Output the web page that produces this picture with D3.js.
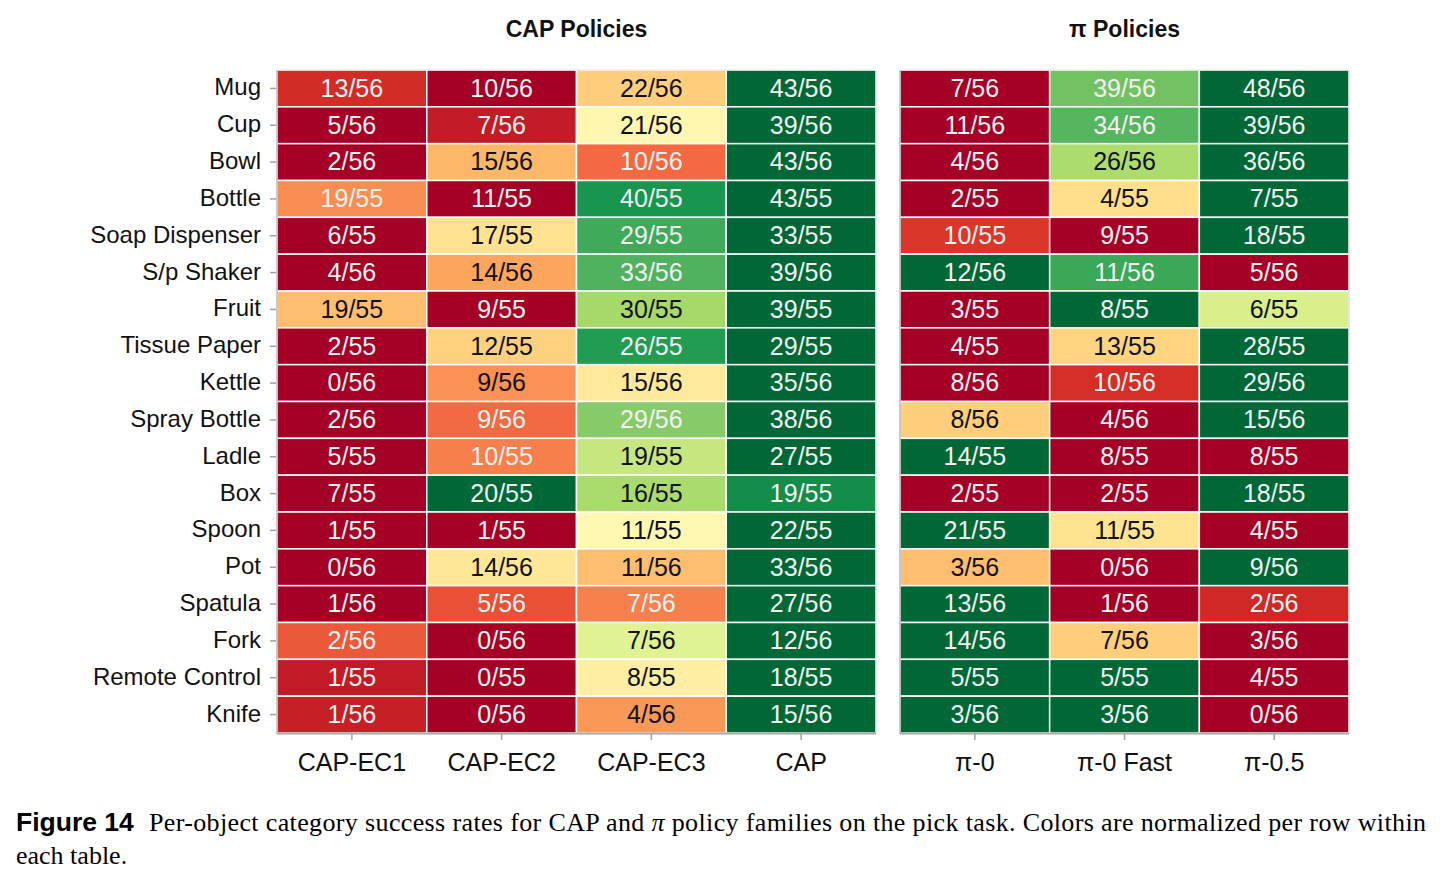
<!DOCTYPE html>
<html>
<head>
<meta charset="utf-8">
<script src="https://cdn.jsdelivr.net/npm/d3@7"></script>
<style>
  html, body { margin: 0; padding: 0; background: #ffffff; }
  svg { display: block; }
</style>
</head>
<body>
<svg id="chart" width="1442" height="886"></svg>
<script>
// ---------------- DATA ----------------
const objects = ["Mug", "Cup", "Bowl", "Bottle", "Soap Dispenser", "S/p Shaker", "Fruit",
  "Tissue Paper", "Kettle", "Spray Bottle", "Ladle", "Box", "Spoon", "Pot", "Spatula",
  "Fork", "Remote Control", "Knife"];
const trials = [56, 56, 56, 55, 55, 56, 55, 55, 56, 56, 55, 55, 55, 56, 56, 56, 55, 56];

const capPolicies = ["CAP-EC1", "CAP-EC2", "CAP-EC3", "CAP"];
const capEC1 = [13, 5, 2, 19, 6, 4, 19, 2, 0, 2, 5, 7, 1, 0, 1, 2, 1, 1];
const capEC2 = [10, 7, 15, 11, 17, 14, 9, 12, 9, 9, 10, 20, 1, 14, 5, 0, 0, 0];
const capEC3 = [22, 21, 10, 40, 29, 33, 30, 26, 15, 29, 19, 16, 11, 11, 7, 7, 8, 4];
const capFull = [43, 39, 43, 43, 33, 39, 39, 29, 35, 38, 27, 19, 22, 33, 27, 12, 18, 15];

const piPolicies = ["π-0", "π-0 Fast", "π-0.5"];
const pi0 = [7, 11, 4, 2, 10, 12, 3, 4, 8, 8, 14, 2, 21, 3, 13, 14, 5, 3];
const pi0Fast = [39, 34, 26, 4, 9, 11, 8, 13, 10, 4, 8, 2, 11, 0, 1, 7, 5, 3];
const pi05 = [48, 39, 36, 7, 18, 5, 6, 28, 29, 15, 8, 18, 4, 9, 2, 3, 4, 0];

const titles = ["CAP Policies", "π Policies"];
const captionLabel = "Figure 14";
const captionLine1 = ["Per-object category success rates for CAP and ", "π", " policy families on the pick task. Colors are normalized per row within"];
const captionLine2 = "each table.";

// matplotlib RdYlGn anchors
const rdylgn = ["#a50026", "#d73027", "#f46d43", "#fdae61", "#fee08b", "#ffffbf",
  "#d9ef8b", "#a6d96a", "#66bd63", "#1a9850", "#006837"];

// ---------------- CHART ----------------
const svg = d3.select("#chart");
const color = d3.scaleLinear()
  .domain(d3.range(11).map(i => i / 10))
  .range(rdylgn)
  .interpolate(d3.interpolateRgb)
  .clamp(true);

const y = d3.scaleBand().domain(objects).range([70, 733]);

const tables = [
  { title: titles[0], policies: capPolicies, series: [capEC1, capEC2, capEC3, capFull], range: [277, 876], yAxis: true },
  { title: titles[1], policies: piPolicies, series: [pi0, pi0Fast, pi05], range: [900, 1349], yAxis: false }
];

const sans = "'Liberation Sans', Arial, Helvetica, sans-serif";

tables.forEach(tb => {
  const x = d3.scaleBand().domain(tb.policies).range(tb.range);
  const cells = [];
  objects.forEach((obj, r) => {
    const vals = tb.series.map(s => s[r]);
    const lo = d3.min(vals), hi = d3.max(vals);
    tb.policies.forEach((p, c) => {
      const v = vals[c];
      const norm = hi > lo ? (v - lo) / (hi - lo) : 0.5;
      cells.push({ obj, p, v, n: trials[r], norm });
    });
  });

  const g = svg.append("g");

  g.selectAll("rect.cell").data(cells).join("rect")
    .attr("class", "cell")
    .attr("x", d => x(d.p))
    .attr("y", d => y(d.obj))
    .attr("width", x.bandwidth())
    .attr("height", y.bandwidth())
    .attr("fill", d => color(d.norm))
    .attr("stroke", "#ffffff")
    .attr("stroke-width", 1.5);

  g.selectAll("text.val").data(cells).join("text")
    .attr("class", "val")
    .attr("x", d => x(d.p) + x.bandwidth() / 2)
    .attr("y", d => y(d.obj) + y.bandwidth() / 2)
    .attr("dy", "0.33em")
    .attr("text-anchor", "middle")
    .attr("font-family", sans)
    .attr("font-size", 25)
    .attr("fill", d => (d.norm <= 0.2501 || d.norm >= 0.7499) ? "#f2f2f2" : "#111111")
    .text(d => `${d.v}/${d.n}`);

  // frame (spines)
  const [x0, x1] = tb.range;
  g.append("line").attr("x1", x0).attr("x2", x0).attr("y1", 70).attr("y2", 734)
    .attr("stroke", "#b8b8b8").attr("stroke-width", 1.5);
  g.append("line").attr("x1", x1).attr("x2", x1).attr("y1", 70).attr("y2", 734)
    .attr("stroke", "#d0d0d0").attr("stroke-width", 1);
  g.append("line").attr("x1", x0).attr("x2", x1).attr("y1", 70).attr("y2", 70)
    .attr("stroke", "#e0e0e0").attr("stroke-width", 1);
  g.append("line").attr("x1", x0).attr("x2", x1).attr("y1", 733.5).attr("y2", 733.5)
    .attr("stroke", "#a8a8a8").attr("stroke-width", 2);

  // bottom axis
  const xa = svg.append("g").attr("transform", "translate(0,734)")
    .call(d3.axisBottom(x).tickSize(6).tickPadding(13));
  xa.select(".domain").remove();
  xa.selectAll(".tick line").attr("stroke", "#a0a0a0").attr("stroke-width", 1.5);
  xa.selectAll(".tick text").attr("font-family", sans).attr("font-size", 25).attr("fill", "#111");

  if (tb.yAxis) {
    const ya = svg.append("g").attr("transform", `translate(${x0 - 1},0)`)
      .call(d3.axisLeft(y).tickSize(6).tickPadding(9));
    ya.select(".domain").remove();
    ya.selectAll(".tick line").attr("stroke", "#a0a0a0").attr("stroke-width", 1.5);
    ya.selectAll(".tick text").attr("font-family", sans).attr("font-size", 24)
      .attr("dy", "0.29em").attr("fill", "#111");
  }

  svg.append("text")
    .attr("x", (x0 + x1) / 2)
    .attr("y", 37)
    .attr("text-anchor", "middle")
    .attr("font-family", sans)
    .attr("font-weight", "bold")
    .attr("font-size", 23)
    .attr("fill", "#111")
    .text(tb.title);
});

// caption
svg.append("text")
  .attr("x", 16).attr("y", 831)
  .attr("font-family", sans).attr("font-weight", "bold").attr("font-size", 26.5)
  .attr("fill", "#000")
  .text(captionLabel);

const cap1 = svg.append("text")
  .attr("x", 149).attr("y", 831)
  .attr("font-family", "'Liberation Serif', 'Times New Roman', serif")
  .attr("font-size", 26)
  .attr("fill", "#000")
  .attr("textLength", 1277)
  .attr("lengthAdjust", "spacing");
cap1.selectAll("tspan").data(captionLine1).join("tspan")
  .attr("font-style", (d, i) => i === 1 ? "italic" : "normal")
  .text(d => d);

svg.append("text")
  .attr("x", 16).attr("y", 864)
  .attr("font-family", "'Liberation Serif', 'Times New Roman', serif")
  .attr("font-size", 26)
  .attr("fill", "#000")
  .text(captionLine2);
</script>
</body>
</html>
